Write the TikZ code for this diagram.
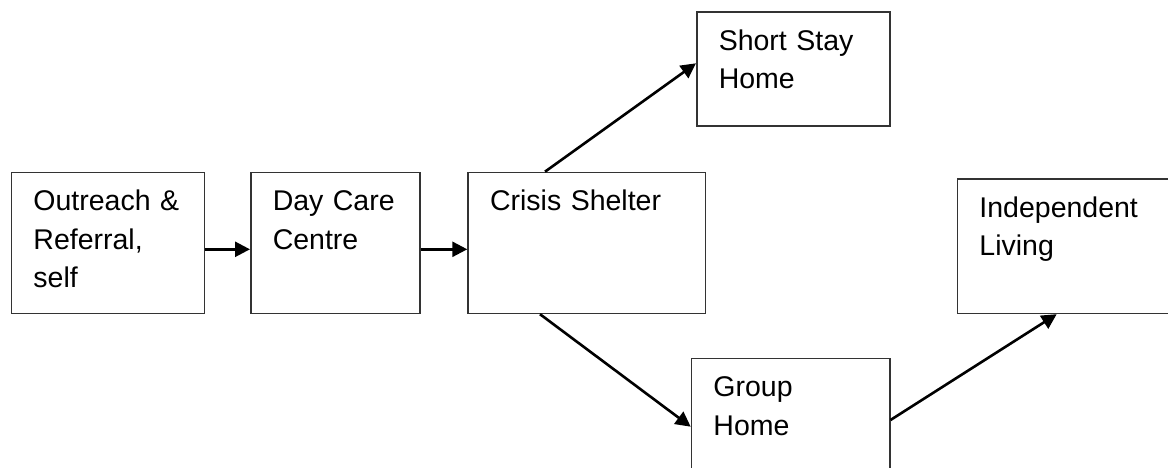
\documentclass[tikz,border=0pt]{standalone}
\usepackage{fontspec}
\setmainfont{Liberation Sans}
\usetikzlibrary{arrows.meta}

\tikzset{
	stage/.style={draw=black!80, line width=1.5pt, rectangle, anchor=north west,
		inner xsep=22pt, inner ysep=0pt, align=left,
		font=\fontsize{28.5}{38.5}\selectfont, text height=38.3pt},
	flow/.style={line width=2.6pt, -{Triangle[length=15pt,width=15pt]}}
}

\begin{document}
\begin{tikzpicture}[x=1pt, y=-1pt]

	\path[use as bounding box, clip] (0,0) rectangle (1168,468);

	\node[stage, text width=148.8pt, text depth=102.7pt] (outreach) at (10.7,171.7) {Outreach \&\\Referral,\\self};
	\node[stage, text width=125.3pt, text depth=102.7pt] (daycare) at (250,171.7) {Day Care\\Centre};
	\node[stage, text width=193.4pt, text depth=102.7pt] (crisis) at (467.3,171.7) {Crisis Shelter};
	\node[stage, text width=149pt, text depth=75.7pt] (shortstay) at (696,11.3) {Short Stay\\Home};
	\node[stage, text width=154.3pt, text depth=81.7pt] (group) at (690.7,357.7) {Group\\Home};
	\node[stage, text width=171pt, text depth=96.1pt] (indep) at (956.7,178.3) {Independent\\Living};

	\draw[flow] ([yshift=-77.6pt]outreach.north east) -- ([yshift=-77.6pt]daycare.north west);
	\draw[flow] ([yshift=-77.6pt]daycare.north east) -- ([yshift=-77.6pt]crisis.north west);
	\draw[flow] ([xshift=77.7pt]crisis.north west) -- ([yshift=-52pt]shortstay.north west);
	\draw[flow] ([xshift=72.7pt]crisis.south west) -- ([yshift=-69pt]group.north west);
	\draw[flow] ([yshift=-62.3pt]group.north east) -- ([xshift=100pt]indep.south west);

\end{tikzpicture}
\end{document}
